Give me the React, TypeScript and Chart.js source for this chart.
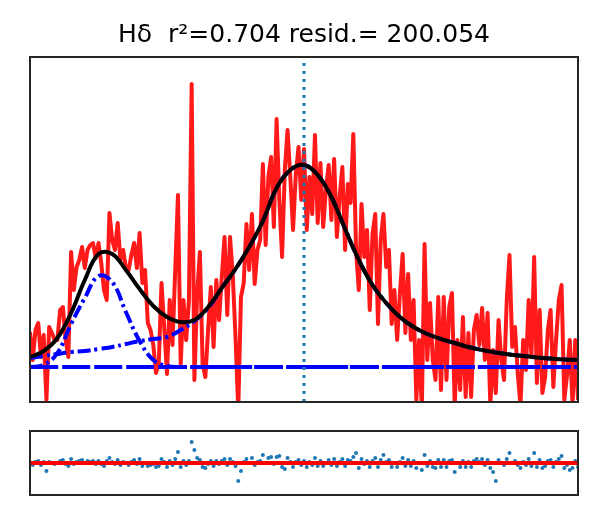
import { useEffect, useRef } from "react";
import * as React from "react";
import { Chart, registerables } from "chart.js";

Chart.register(...registerables);

const TITLE = "Hδ  r²=0.704 resid.= 200.054";

// wavelength window (Å) and sampling of the spectrum / fit
const WAVE_START = 4041.7;
const WAVE_END = 4161.7;
const LINE_CENTER = 4101.7;
const SPEC_STEP = 0.6;
const FIT_STEP = 3;

// observed flux, one value per spectrum pixel
const specFlux = [
  0.70, 0.42, 0.72, 0.79, 0.45, 0.67, 0.02, 0.75, 0.69, 0.62,
  0.62, 0.92, 0.95, 0.62, 0.45, 1.50, 1.12, 1.35, 1.42, 1.55,
  1.34, 1.52, 1.57, 1.59, 1.44, 1.59, 1.39, 1.12, 1.02, 1.89,
  1.62, 1.52, 1.79, 1.42, 1.52, 1.34, 1.32, 1.47, 1.59, 1.34,
  1.69, 1.19, 1.32, 0.79, 0.72, 0.57, 0.29, 0.39, 1.19, 0.74,
  0.28, 1.02, 0.57, 1.32, 2.07, 0.38, 1.02, 0.62, 1.02, 3.18,
  0.22, 1.08, 1.50, 0.38, 0.25, 0.72, 1.15, 0.55, 1.22, 0.82,
  1.25, 1.65, 0.87, 1.65, 1.27, 0.65, -0.08, 1.05, 1.19, 1.78,
  1.32, 1.88, 1.18, 1.52, 1.62, 2.38, 1.57, 2.25, 2.45, 1.75,
  2.83, 2.02, 1.45, 2.32, 2.72, 2.25, 1.72, 2.27, 2.55, 2.02,
  2.53, 1.72, 2.25, 1.88, 2.67, 1.79, 2.39, 1.75, 2.12, 2.37,
  1.82, 2.43, 1.65, 2.05, 2.35, 1.52, 2.18, 1.99, 2.68, 1.52,
  1.12, 1.98, 1.45, 1.72, 0.92, 1.68, 1.88, 0.78, 1.62, 1.88,
  1.35, 1.52, 0.78, 1.12, 0.62, 1.08, 1.48, 0.69, 1.28, 0.62,
  1.02, 0.02, 0.62, -0.08, 1.58, 0.42, 0.99, 0.42, 0.22, 1.05,
  0.12, 1.05, 0.22, 0.95, 1.09, -0.03, 0.62, 0.12, 0.85, 0.05,
  0.69, 0.05, 0.72, 0.87, 0.57, 0.94, 0.42, 0.89, -0.03, 0.52,
  0.09, 0.82, 0.42, 0.22, 1.02, 1.47, 0.55, 0.75, 0.29, -0.03,
  0.62, 0.32, 1.02, 0.45, 1.45, 0.19, 0.92, 0.09, 0.25, 0.72,
  0.92, 0.15, 0.62, 1.02, 1.17, 0.02, 0.27, 0.62, -0.03, 0.62,
  0.02,
];

// residuals, same pixels
const residuals = [
  0.0, -0.2, 0.1, 0.2, -0.2, 0.1, -0.8, 0.1, 0.0, -0.1,
  0.0, 0.2, 0.3, -0.1, -0.3, 0.4, -0.1, 0.1, 0.2, 0.3,
  0.0, 0.2, 0.1, 0.2, -0.1, 0.2, -0.1, -0.3, 0.2, 0.5,
  0.1, -0.1, 0.3, -0.2, 0.1, 0.0, -0.2, 0.1, 0.3, -0.1,
  0.4, -0.3, 0.0, -0.3, -0.2, -0.1, -0.4, -0.3, 0.4, 0.1,
  -0.4, 0.2, -0.2, 0.4, 1.1, -0.4, 0.2, -0.2, 0.2, 2.1,
  1.3, 0.5, 0.3, -0.4, -0.5, -0.1, 0.2, -0.3, 0.2, -0.1,
  0.2, 0.4, -0.2, 0.4, 0.1, -0.3, -1.8, -0.8, 0.1, 0.4,
  0.0, 0.5, -0.2, 0.1, 0.2, 0.8, 0.0, 0.5, 0.6, -0.1,
  0.6, 0.7, -0.4, -0.6, 0.5, 0.1, -0.4, 0.1, 0.3, -0.2,
  0.2, -0.4, 0.1, -0.2, 0.5, -0.3, 0.2, -0.3, 0.0, 0.3,
  -0.2, 0.4, -0.3, 0.1, 0.4, -0.3, 0.3, 0.2, 0.6, 1.0,
  -0.5, 0.4, -0.1, 0.2, -0.4, 0.2, 0.5, -0.4, 0.3, 0.8,
  0.1, 0.3, -0.4, 0.0, -0.4, 0.1, 0.5, -0.3, 0.3, -0.3,
  0.2, -0.5, 0.0, -0.7, 0.8, -0.3, 0.2, -0.4, -0.5, 0.3,
  -0.4, 0.3, -0.4, 0.2, 0.3, -0.9, 0.0, -0.4, 0.2, -0.4,
  0.1, -0.4, 0.2, 0.4, 0.1, 0.4, -0.2, 0.3, -0.5, -0.9,
  -1.8, 0.3, 0.0, -0.2, 0.4, 1.0, 0.0, 0.2, -0.2, -0.5,
  0.1, -0.2, 0.4, -0.3, 1.0, -0.4, 0.3, -0.5, -0.3, 0.2,
  0.3, -0.4, 0.1, 0.4, 0.7, -0.5, -0.2, -0.7, -0.5, 0.2,
  -0.4,
];

// model curves on the coarse fit grid
const totalFit = [
  0.45, 0.51, 0.64, 0.89, 1.22, 1.48, 1.48, 1.32, 1.13, 0.96,
  0.85, 0.80, 0.82, 0.95, 1.14, 1.33, 1.55, 1.81, 2.14, 2.32,
  2.37, 2.27, 2.05, 1.73, 1.42, 1.17, 0.99, 0.85, 0.75, 0.68,
  0.63, 0.59, 0.55, 0.52, 0.495, 0.475, 0.46, 0.445, 0.435, 0.425,
  0.42,
];
const broadFit = [
  0.44, 0.46, 0.48, 0.50, 0.51, 0.53, 0.55, 0.58, 0.61, 0.63,
  0.65, 0.72, 0.81, 0.94, 1.14, 1.33, 1.55, 1.81, 2.14, 2.32,
  2.37, 2.27, 2.05, 1.73, 1.42, 1.17, 0.99, 0.85, 0.75, 0.68,
  0.63, 0.59, 0.55, 0.52, 0.495, 0.475, 0.46, 0.445, 0.435, 0.425,
  0.42,
];
const narrowFit = [
  0.35, 0.37, 0.49, 0.78, 1.04, 1.26, 1.20, 0.90, 0.61, 0.42,
  0.36, 0.35, 0.35, 0.35, 0.35, 0.35, 0.35, 0.35, 0.35, 0.35,
  0.35, 0.35, 0.35, 0.35, 0.35, 0.35, 0.35, 0.35, 0.35, 0.35,
  0.35, 0.35, 0.35, 0.35, 0.35, 0.35, 0.35, 0.35, 0.35, 0.35,
  0.35,
];
const continuum = [0.35, 0.35];

const FLUX_MIN = 0;
const FLUX_MAX = 3.45;
const RESID_LIM = 3.2;

const onGrid = (vals: number[], step: number) =>
  vals.map((y, i) => ({ x: WAVE_START + i * step, y }));

const framePlugin = {
  id: "frame",
  afterDatasetsDraw(chart: any) {
    const { ctx, chartArea: a } = chart;
    ctx.save();
    ctx.strokeStyle = "#262626";
    ctx.lineWidth = 2;
    ctx.strokeRect(a.left, a.top, a.right - a.left, a.bottom - a.top);
    ctx.restore();
  },
};

const xScale = { type: "linear" as const, min: WAVE_START, max: WAVE_END, display: false };

const App: React.FC = () => {
  const mainRef = useRef<HTMLCanvasElement>(null);
  const residRef = useRef<HTMLCanvasElement>(null);

  useEffect(() => {
    if (!mainRef.current || !residRef.current) return;

    const fitLine = (data: any, color: string, dash: number[], order: number) => ({
      data,
      borderColor: color,
      borderWidth: 4,
      borderDash: dash,
      tension: 0.4,
      pointRadius: 0,
      fill: false,
      order,
    });

    const main = new Chart(mainRef.current, {
      type: "line",
      data: {
        datasets: [
          {
            data: [
              { x: LINE_CENTER, y: FLUX_MIN },
              { x: LINE_CENTER, y: FLUX_MAX },
            ],
            borderColor: "#1f77b4",
            borderWidth: 3,
            borderDash: [3, 5],
            pointRadius: 0,
            order: 0,
          },
          fitLine(onGrid(totalFit, FIT_STEP), "#000000", [], 1),
          fitLine(onGrid(narrowFit, FIT_STEP), "#0000ff", [13, 4, 3, 4], 2),
          fitLine(onGrid(broadFit, FIT_STEP), "#0000ff", [13, 4, 3, 4], 3),
          fitLine(
            [
              { x: WAVE_START, y: continuum[0] },
              { x: WAVE_END, y: continuum[1] },
            ],
            "#0000ff",
            [28, 4],
            4
          ),
          {
            data: onGrid(specFlux, SPEC_STEP),
            borderColor: "rgba(255,0,0,0.9)",
            borderWidth: 4,
            borderJoinStyle: "round",
            pointRadius: 0,
            tension: 0,
            order: 5,
          },
        ],
      },
      options: {
        animation: false,
        responsive: false,
        layout: { padding: { left: 30, right: 22, top: 0, bottom: 8 } },
        plugins: {
          legend: { display: false },
          tooltip: { enabled: false },
          title: {
            display: true,
            text: TITLE,
            color: "#000000",
            font: { family: "'DejaVu Sans', sans-serif", size: 25, weight: "normal" },
            padding: { top: 20, bottom: 7 },
          },
        },
        scales: {
          x: xScale,
          y: { min: FLUX_MIN, max: FLUX_MAX, display: false },
        },
      },
      plugins: [framePlugin],
    });

    const resid = new Chart(residRef.current, {
      type: "scatter",
      data: {
        datasets: [
          {
            data: [
              { x: WAVE_START, y: 0 },
              { x: WAVE_END, y: 0 },
            ],
            showLine: true,
            borderColor: "#ff0000",
            borderWidth: 4,
            pointRadius: 0,
            order: 0,
          },
          {
            data: onGrid(residuals, SPEC_STEP),
            backgroundColor: "#1f77b4",
            borderWidth: 0,
            pointRadius: 2,
            order: 1,
          },
        ],
      },
      options: {
        animation: false,
        responsive: false,
        layout: { padding: { left: 30, right: 22, top: 11, bottom: 10 } },
        plugins: { legend: { display: false }, tooltip: { enabled: false } },
        scales: {
          x: xScale,
          y: { min: -RESID_LIM, max: RESID_LIM, display: false },
        },
      },
      plugins: [framePlugin],
    });

    return () => {
      main.destroy();
      resid.destroy();
    };
  }, []);

  return (
    <div style={{ position: "absolute", left: 0, top: 0, width: 600, height: 525, background: "#fff" }}>
      <canvas ref={mainRef} width={600} height={410} style={{ position: "absolute", left: 0, top: 0 }} />
      <canvas ref={residRef} width={600} height={85} style={{ position: "absolute", left: 0, top: 420 }} />
    </div>
  );
};

export default App;
